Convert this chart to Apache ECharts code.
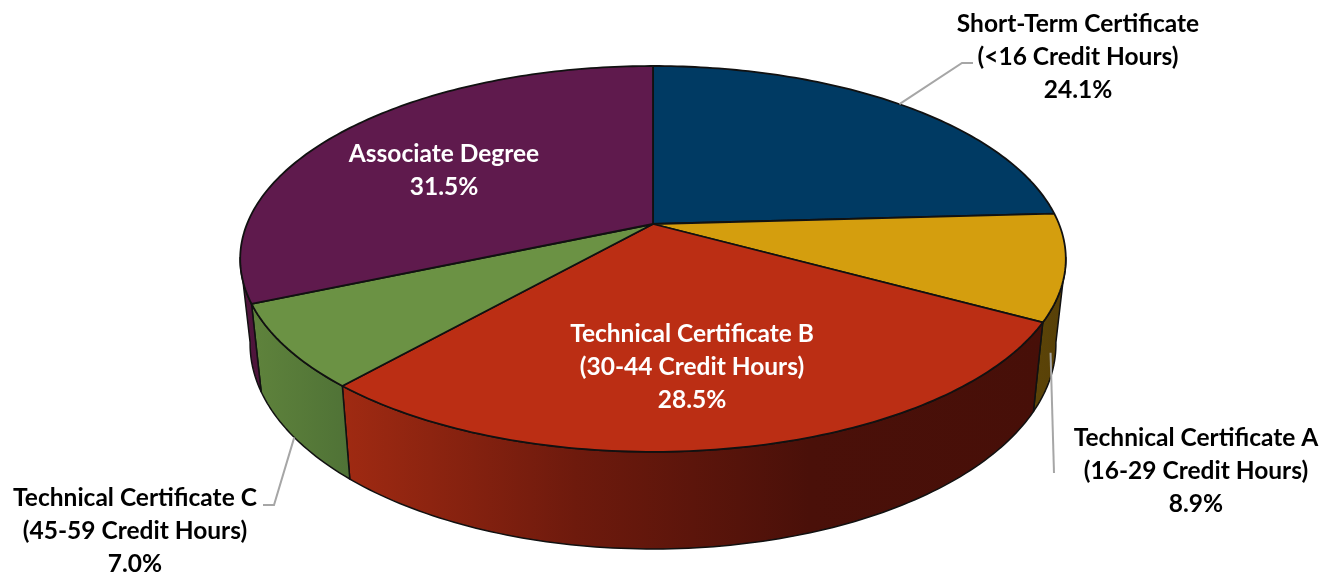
<!DOCTYPE html>
<html style="height: 100%">
<head>
    <meta charset="utf-8">
    <title>Credentials by program length</title>
    <script src="https://cdn.jsdelivr.net/npm/echarts@6/dist/echarts.min.js"></script>
</head>
<body style="height: 100%; margin: 0; background: #fff">
<div id="container" style="width: 1335px; height: 573px"></div>

<script type="text/javascript">
    // data, clockwise from 12 o'clock
    var categories = [
        'Short-Term Certificate\n(<16 Credit Hours)',
        'Technical Certificate A\n(16-29 Credit Hours)',
        'Technical Certificate B\n(30-44 Credit Hours)',
        'Technical Certificate C\n(45-59 Credit Hours)',
        'Associate Degree'
    ];
    var values = [24.1, 8.9, 28.5, 7.0, 31.5];

    // styles
    var topColors = ['#003a63', '#d49e0e', '#bb2e14', '#6b9244', '#5f1a4d'];
    var wallColors = [
        ['#002a48', '#002a48'],
        ['#5c4408', '#574007'],
        ['#a02a12', '#6e1a0d', '#4a1009', '#470f08'],
        ['#5f833c', '#4f7236'],
        ['#53163f', '#4c143a']
    ];
    var textColors = ['#000', '#000', '#fff', '#000', '#fff'];

    // label centre + leader line (leader starts on the slice rim, then goes through "bend")
    var labelLayout = [
        {x: 1078, y: 57, rim: 'top', bend: [[962, 63], [973, 63]]},
        {x: 1196, y: 471, rim: 'bottom', dx: -5, bend: [[1054, 473]]},
        {x: 692, y: 367},
        {x: 135, y: 531, rim: 'bottom', bend: [[274, 505], [263, 505]]},
        {x: 444, y: 171}
    ];

    // fake 3D projection of the disc
    var cx = 653, cy = 224;
    var ax = 406, ay = 186.6, persp = 0.181;
    var wallScaleX = 0.976, wallScaleY = 1.062, wallDrop = 83;
    var wallFrom = 100, wallTo = 260; // part of the side that can be seen

    var total = values.reduce(function (a, b) { return a + b; }, 0);

    function topPoint(deg) {
        var r = deg * Math.PI / 180;
        var X = Math.sin(r), Y = -Math.cos(r);
        var w = 1 - persp * Y;
        return [ax * X / w, ay * Y / w];
    }
    function onTop(p) {
        return [cx + p[0], cy + p[1]];
    }
    function onBottom(p) {
        return [cx + p[0] * wallScaleX, cy + wallDrop + p[1] * wallScaleY];
    }
    function arc(from, to) {
        var pts = [];
        for (var d = from; d < to; d += 1) {
            pts.push(topPoint(d));
        }
        pts.push(topPoint(to));
        return pts;
    }
    function sliceAngles(i) {
        var start = 0;
        for (var k = 0; k < i; k++) {
            start += values[k];
        }
        return [start / total * 360, (start + values[i]) / total * 360];
    }

    function renderWall(params, api) {
        var i = params.dataIndex;
        var a = sliceAngles(i);
        var from = Math.max(a[0], wallFrom), to = Math.min(a[1], wallTo);
        if (from >= to) {
            return {type: 'group', children: []};
        }
        var pts = arc(from, to);
        var poly = pts.map(onTop).concat(pts.slice().reverse().map(onBottom));
        var stops = wallColors[i].map(function (c, n, all) {
            return {offset: n / (all.length - 1), color: c};
        });
        return {
            type: 'polygon',
            shape: {points: poly},
            style: {
                fill: new echarts.graphic.LinearGradient(0, 0, 1, 0, stops),
                stroke: '#111',
                lineWidth: 1.5,
                lineJoin: 'round'
            }
        };
    }

    function renderTop(params, api) {
        var i = params.dataIndex;
        var a = sliceAngles(i);
        var poly = [[cx, cy]].concat(arc(a[0], a[1]).map(onTop));
        return {
            type: 'polygon',
            shape: {points: poly},
            style: {fill: topColors[i], stroke: '#111', lineWidth: 1.8, lineJoin: 'round'}
        };
    }

    function renderLabel(params, api) {
        var i = params.dataIndex;
        var l = labelLayout[i];
        var children = [];
        if (l.rim) {
            var a = sliceAngles(i);
            var mid = topPoint((a[0] + a[1]) / 2);
            var s = l.rim === 'top' ? onTop(mid) : onBottom(mid);
            children.push({
                type: 'polyline',
                shape: {points: [[s[0] + (l.dx || 0), s[1]]].concat(l.bend)},
                style: {fill: null, stroke: '#a6a6a6', lineWidth: 2}
            });
        }
        children.push({
            type: 'text',
            style: {
                text: categories[i] + '\n' + values[i].toFixed(1) + '%',
                x: l.x,
                y: l.y,
                align: 'center',
                verticalAlign: 'middle',
                fill: textColors[i],
                fontFamily: 'Lato',
                fontWeight: 'bold',
                fontSize: 24.5,
                lineHeight: 33
            }
        });
        return {type: 'group', children: children};
    }

    var sliceData = values.map(function (v, i) {
        return [i, v];
    });

    var myChart = echarts.init(document.getElementById('container'));
    myChart.setOption({
        backgroundColor: '#fff',
        animation: false,
        series: [
            {type: 'custom', coordinateSystem: 'none', z: 1, silent: true, data: sliceData, renderItem: renderWall},
            {type: 'custom', coordinateSystem: 'none', z: 2, silent: true, data: sliceData, renderItem: renderTop},
            {type: 'custom', coordinateSystem: 'none', z: 3, silent: true, data: sliceData, renderItem: renderLabel}
        ]
    });
</script>
</body>
</html>
